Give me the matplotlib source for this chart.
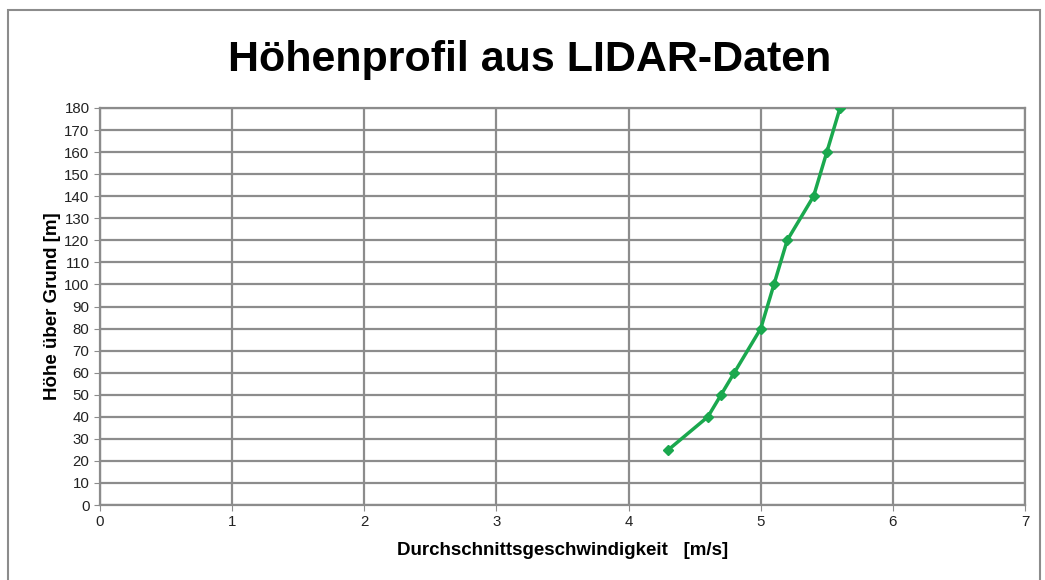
import matplotlib.pyplot as plt
from matplotlib.patches import Rectangle

plt.rcParams['font.family'] = ['Liberation Sans', 'DejaVu Sans']

# Datos del perfil
geschwindigkeit = [4.3, 4.6, 4.7, 4.8, 5.0, 5.1, 5.2, 5.4, 5.5, 5.6]
hoehe = [25, 40, 50, 60, 80, 100, 120, 140, 160, 180]
x_ticks = [0, 1, 2, 3, 4, 5, 6, 7]
y_ticks = list(range(0, 181, 10))

fig = plt.figure(figsize=(10.45, 5.8), dpi=100)
ax = fig.add_axes([0.0957, 0.1293, 0.8852, 0.6845])

# Rahmen um die ganze Figur
fig.patches.append(Rectangle((8 / 1045, -0.01), 1032 / 1045, 0.993,
                             transform=fig.transFigure, fill=False,
                             edgecolor='#8c8c8c', linewidth=1.5))

ax.plot(geschwindigkeit, hoehe, color='#1aa84e', linewidth=2.5,
        marker='D', markersize=5.5, zorder=3)

ax.set_xlim(0, 7)
ax.set_ylim(0, 180)
ax.set_xticks(x_ticks)
ax.set_yticks(y_ticks)
ax.grid(True, color='#8c8c8c', linewidth=1.6)
ax.set_axisbelow(True)
for s in ax.spines.values():
    s.set_color('#8c8c8c')
    s.set_linewidth(1.6)
ax.tick_params(colors='#8c8c8c', labelcolor='#222222', labelsize=10.8,
               length=4)

ax.set_xlabel('Durchschnittsgeschwindigkeit   [m/s]', fontsize=13.5,
              fontweight='bold', labelpad=9)
ax.set_ylabel('Höhe über Grund [m]', fontsize=13.5, fontweight='bold',
              labelpad=2)
fig.text(0.507, 0.897, 'Höhenprofil aus LIDAR-Daten', ha='center',
         va='center', fontsize=31, fontweight='bold')

plt.savefig('out.png', dpi=100)
